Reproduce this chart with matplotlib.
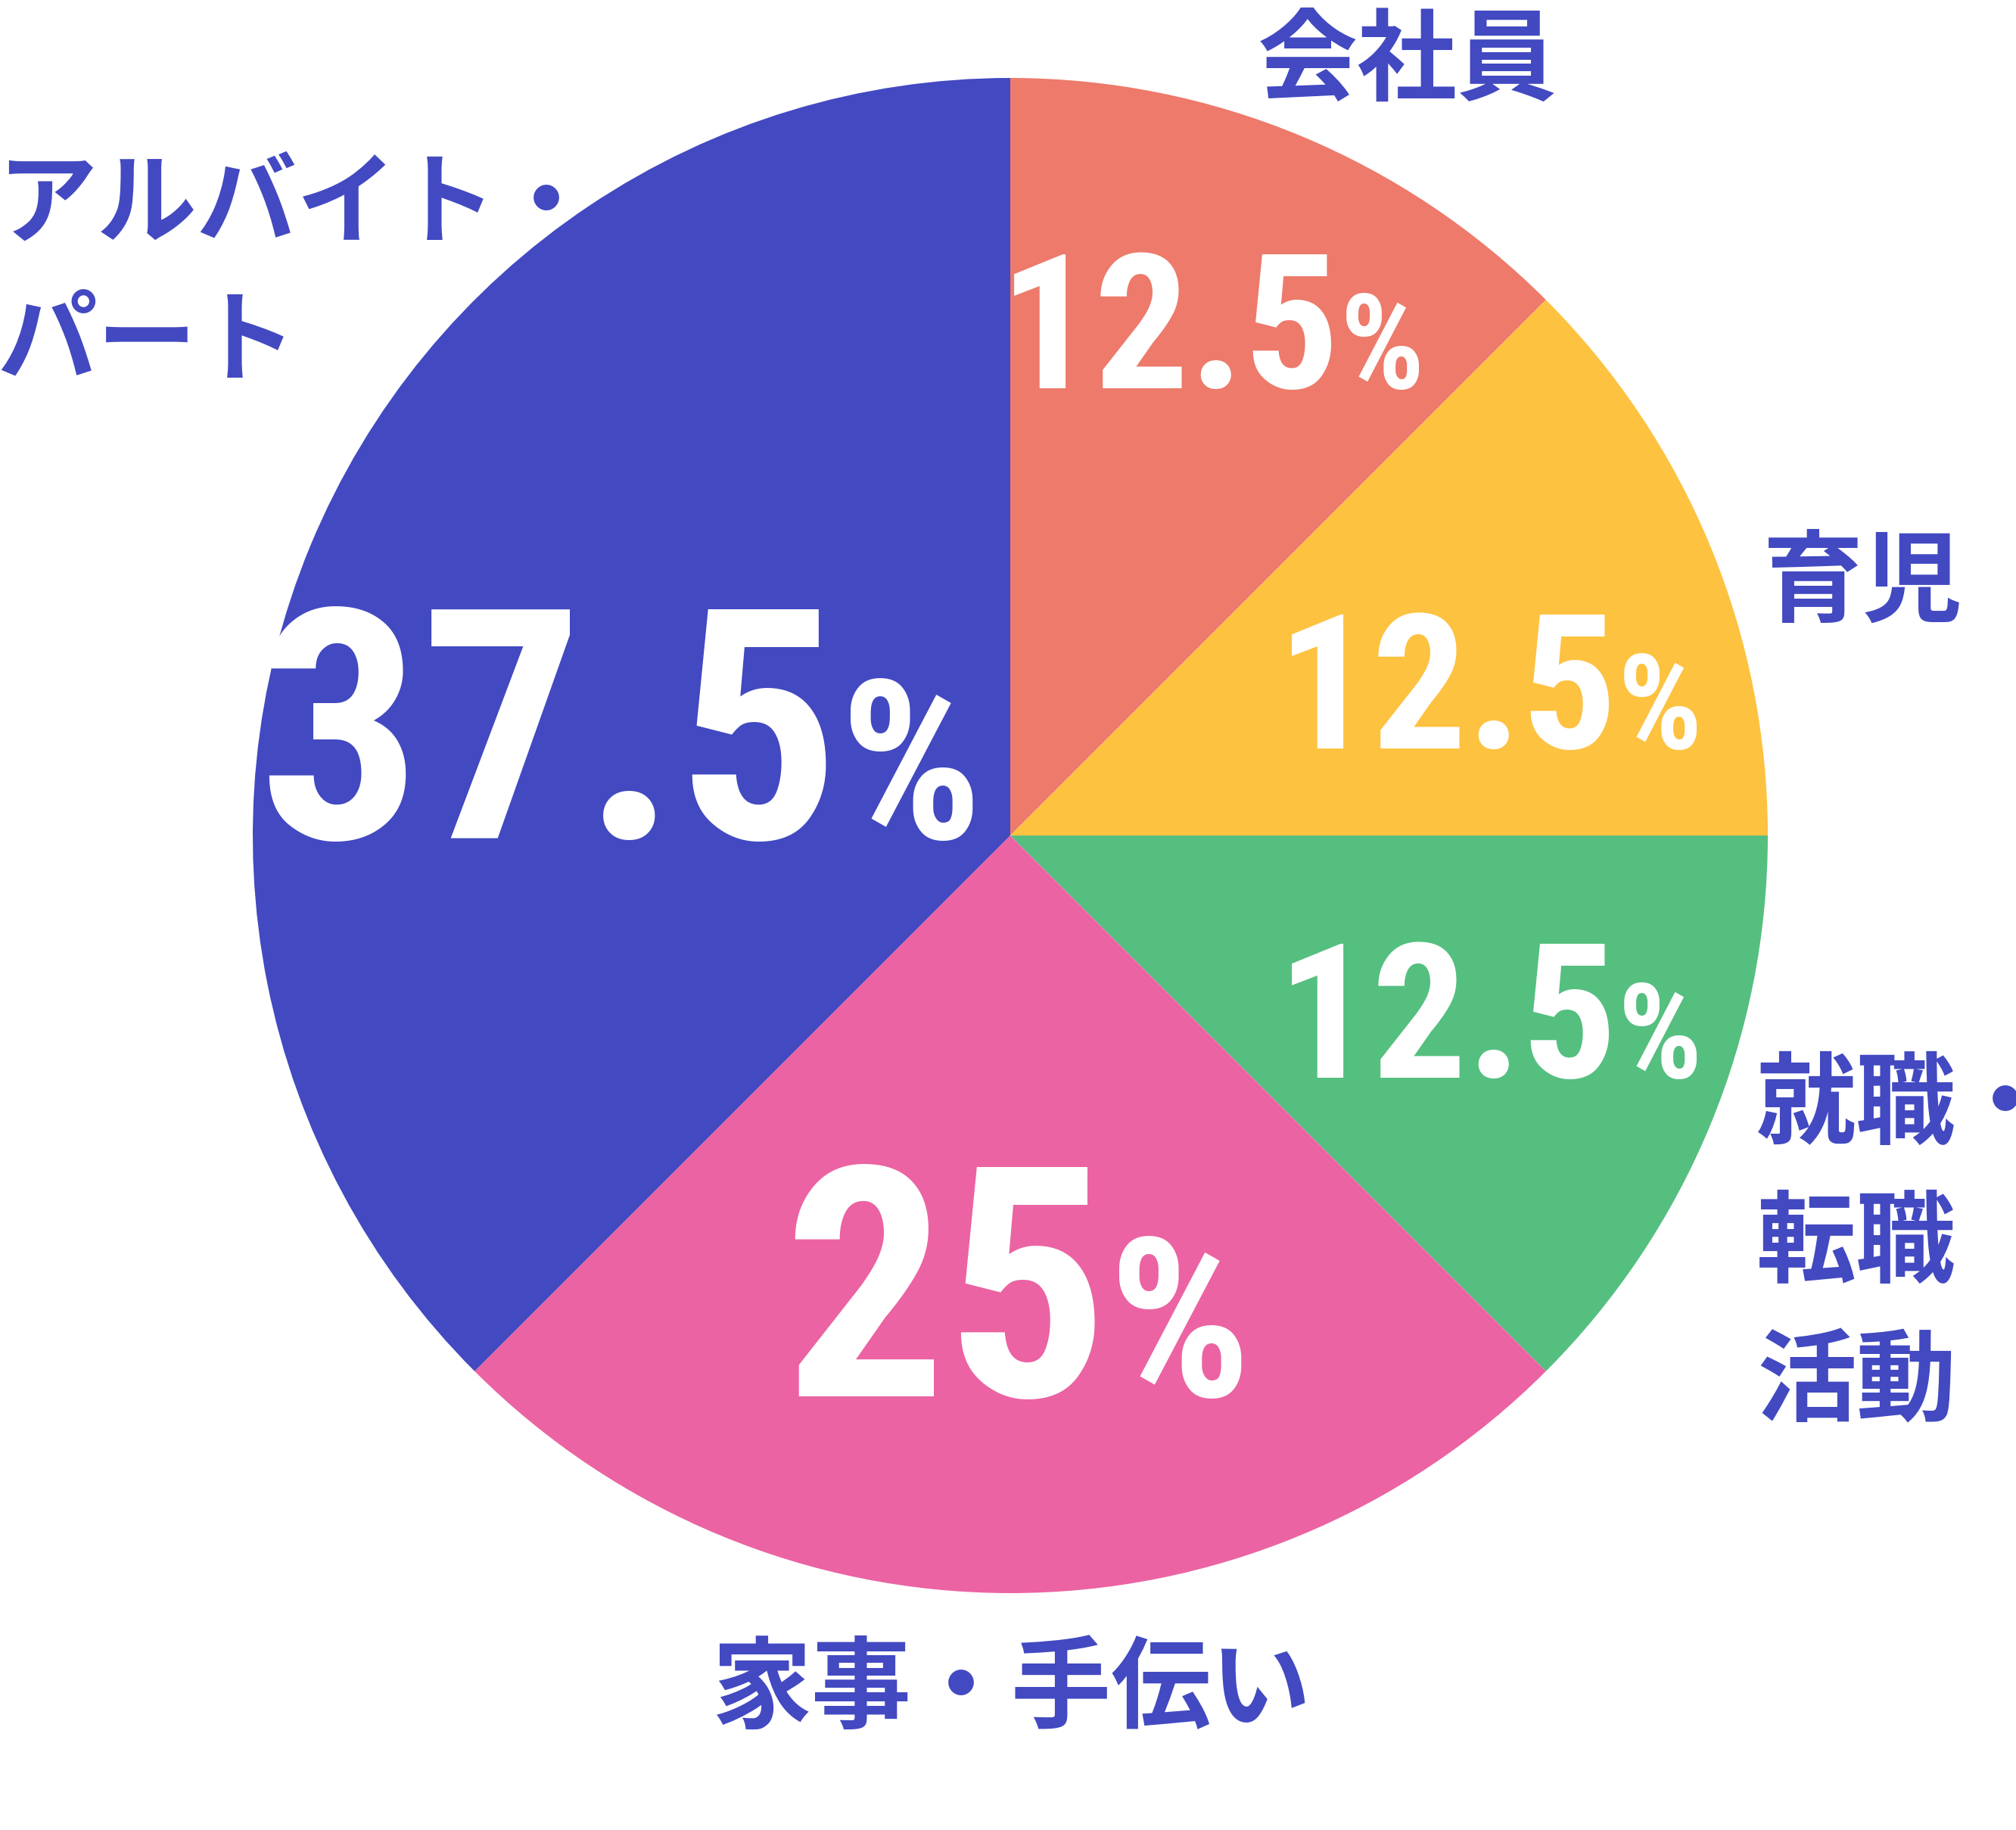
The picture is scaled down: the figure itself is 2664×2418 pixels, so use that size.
import matplotlib.pyplot as plt

# data
categories = ["会社員", "育児", "就職・\n転職\n活動", "家事・手伝い", "アルバイト・\nパート"]
shares = [12.5, 12.5, 12.5, 25, 37.5]
colors = ["#ED7A6B", "#FEC241", "#55BF80", "#EB63A2", "#4249C1"]

W, H = 2664, 2418
label_color = "#4249C1"

fig = plt.figure(figsize=(W / 100, H / 100), dpi=100)
ax = fig.add_axes([0, 0, 1, 1])

ax.pie(shares, colors=colors, startangle=90, counterclock=False,
       center=(1335, H - 1104), radius=1001, wedgeprops=dict(linewidth=0))
ax.set_xlim(0, W)
ax.set_ylim(0, H)
ax.set_aspect("equal")
ax.axis("off")

# percent labels: (number x, % x, baseline y from top, big?)
pct_pos = [(1771, 1771, 513, False), (2138, 2138, 989, False),
           (2138, 2138, 1424, False), (1465, 1465, 1845, True),
           (1110, 1110, 1108, True)]
num_font = ["Roboto Condensed", "Barlow Condensed", "Oswald", "Roboto"]
for v, (xn, xp, y, big) in zip(shares, pct_pos):
    num = f"{v:g}"
    ax.text(xn, H - y, num, ha="right", va="baseline", color="white",
            fontsize=306 if big else 179, fontweight=900, family=num_font)
    ax.text(xp, H - y, "%", ha="left", va="baseline", color="white",
            fontsize=212 if big else 126, fontweight=900, family=num_font)

# category labels
lab_pos = [(1860, 83, "center"), (2462, 772, "center"), (2321, 1645, "left"),
           (1337, 2235, "center"), (-4, 363, "left")]
for name, (x, y, ha) in zip(categories, lab_pos):
    ax.text(x, H - y, name, ha=ha, va="center", color=label_color,
            fontsize=95, fontweight="bold", linespacing=1.47,
            family=["Noto Sans CJK JP", "DejaVu Sans"])

plt.savefig("out.png", dpi=100)
